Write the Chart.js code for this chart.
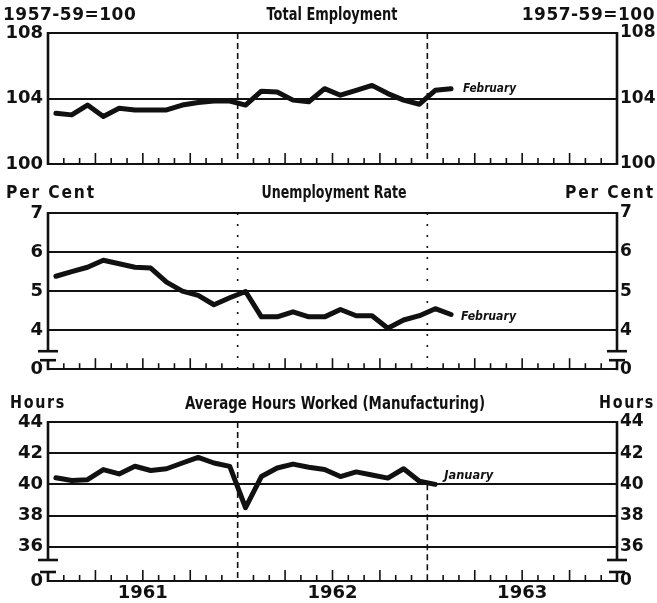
<!DOCTYPE html>
<html><head><meta charset="utf-8">
<script src="https://cdn.jsdelivr.net/npm/chart.js@4.4.1/dist/chart.umd.min.js"></script>
<style>
html,body{margin:0;padding:0;background:#fff;width:657px;height:603px;overflow:hidden;}
canvas{position:absolute;left:0;}
</style></head><body>
<canvas id="c1" width="657" height="180" style="top:0px"></canvas>
<canvas id="c2" width="657" height="205" style="top:180px"></canvas>
<canvas id="c3" width="657" height="218" style="top:385px"></canvas>
<script>
// ---- data ----
const months = ['Jan 1961','Feb 1961','Mar 1961','Apr 1961','May 1961','Jun 1961','Jul 1961','Aug 1961','Sep 1961','Oct 1961','Nov 1961','Dec 1961',
                'Jan 1962','Feb 1962','Mar 1962','Apr 1962','May 1962','Jun 1962','Jul 1962','Aug 1962','Sep 1962','Oct 1962','Nov 1962','Dec 1962',
                'Jan 1963','Feb 1963'];
const employment = [103.1,103.0,103.6,102.9,103.4,103.3,103.3,103.3,103.6,103.75,103.85,103.85,
                    103.6,104.45,104.4,103.9,103.8,104.6,104.2,104.5,104.8,104.3,103.9,103.65,
                    104.5,104.6];
const unemployment = [5.38,5.5,5.61,5.79,5.7,5.61,5.59,5.23,5.0,4.89,4.65,4.83,
                      4.99,4.34,4.34,4.47,4.34,4.34,4.53,4.37,4.37,4.05,4.26,4.37,
                      4.55,4.40];
const hours = [40.42,40.25,40.3,40.95,40.67,41.16,40.89,41.0,41.37,41.73,41.37,41.15,
               38.5,40.5,41.05,41.3,41.1,40.95,40.5,40.8,40.6,40.4,41.0,40.2,
               40.0];
const yearLabels = ['1961','1962','1963'];
const employmentTicks = [100,104,108];
const unemploymentTicks = [4,5,6,7];
const hoursTicks = [36,38,40,42,44];

const FONT = "'DejaVu Sans', sans-serif";

function makePanel(id, cfg){
  const pts = cfg.values.map((v,i)=>({x:i+0.5, y:v}));
  const tickList = cfg.base!==undefined ? [cfg.base].concat(cfg.ticks) : cfg.ticks;
  const tickFont = {family:FONT, size:18, weight:'bold'};
  const tickFontR = {family:FONT, size:17, weight:'bold'};
  const lbl = v => (cfg.base!==undefined && v===cfg.base) ? '0' : String(v);
  const deco = {
    id:'deco'+id,
    beforeDatasetsDraw(chart){
      const c = chart.ctx, a = chart.chartArea, xs = chart.scales.x, ys = chart.scales.y;
      c.save();
      c.strokeStyle = '#111';
      [12,24].forEach((m,k)=>{
        const x = xs.getPixelForValue(m);
        const from = cfg.yearFrom && cfg.yearFrom[k]!==undefined ? ys.getPixelForValue(cfg.yearFrom[k]) : a.top;
        c.lineWidth = 1.6; c.setLineDash(cfg.dash);
        c.beginPath(); c.moveTo(x, from); c.lineTo(x, a.bottom); c.stroke();
      });
      c.setLineDash([]);
      c.lineWidth = 1.6;
      for(let m=1;m<36;m++){
        if(m===12||m===24) continue;
        const x = xs.getPixelForValue(m);
        const h = (m%3===0) ? 11 : 6;
        c.beginPath(); c.moveTo(x, a.bottom); c.lineTo(x, a.bottom-h); c.stroke();
      }
      c.lineWidth = 2.6;
      [a.left, a.right].forEach(x=>{
        if(!cfg.brk){
          c.beginPath(); c.moveTo(x,a.top-1); c.lineTo(x,a.bottom+1); c.stroke();
        } else {
          const yu = a.bottom - cfg.brk[0], yl = a.bottom - cfg.brk[1];
          c.beginPath(); c.moveTo(x,a.top-1); c.lineTo(x,yu); c.stroke();
          c.beginPath(); c.moveTo(x-10,yu); c.lineTo(x+10,yu); c.stroke();
          c.beginPath(); c.moveTo(x-8,yl); c.lineTo(x+8,yl); c.stroke();
          c.beginPath(); c.moveTo(x,yl); c.lineTo(x,a.bottom+1); c.stroke();
        }
      });
      c.restore();
    },
    afterDatasetsDraw(chart){
      const c = chart.ctx, xs = chart.scales.x, ys = chart.scales.y;
      const n = cfg.values.length-1;
      const x = xs.getPixelForValue(n+0.5) + cfg.endOff[0];
      const y = ys.getPixelForValue(cfg.values[n]) + cfg.endOff[1];
      c.save();
      c.fillStyle = '#111'; c.textBaseline = 'middle'; c.textAlign = 'left';
      c.font = "bold italic 12px " + FONT;
      c.fillText(cfg.endLabel, x, y, cfg.endW);
      c.restore();
    },
    afterDraw(chart){
      const c = chart.ctx;
      c.save();
      c.fillStyle = '#111'; c.textBaseline = 'middle';
      c.font = "bold 17px " + FONT;
      c.letterSpacing = cfg.sideSpacing;
      c.textAlign = 'left'; c.fillText(cfg.side, cfg.sideL, cfg.headY, cfg.sideW);
      c.textAlign = 'right'; c.fillText(cfg.side, 655, cfg.headY, cfg.sideW);
      c.letterSpacing = '0px';
      c.font = "bold 18px " + FONT;
      c.textAlign = 'center'; c.fillText(cfg.title, cfg.titleX, cfg.titleY, cfg.titleW);
      c.restore();
    }
  };
  return new Chart(document.getElementById(id), {
    type:'line',
    data:{ datasets:[{ label:cfg.title, data:pts, borderColor:'#111', borderWidth:5,
      pointRadius:0, tension:0, borderJoinStyle:'round', borderCapStyle:'round', fill:false }]},
    options:{
      responsive:false, animation:false, devicePixelRatio:1,
      layout:{padding:{top:cfg.padTop, bottom:cfg.padBottom, left:0, right:0}},
      plugins:{legend:{display:false}, tooltip:{enabled:false}},
      scales:{
        x:{ type:'linear', min:0, max:36, display:!!cfg.showYears,
            grid:{display:false, drawTicks:false}, border:{display:false},
            afterBuildTicks: ax => { ax.ticks = [6,18,30].map(v=>({value:v})); },
            afterFit: s => { s.height = cfg.showYears ? 22 : 0; },
            ticks:{ autoSkip:false, maxRotation:0, padding:2, color:'#111', font:tickFont,
                    callback: v => yearLabels[Math.round((v-6)/12)] } },
        y:{ type:'linear', position:'left', min:cfg.min, max:cfg.max,
            afterBuildTicks: ax => { ax.ticks = tickList.map(v=>({value:v})); },
            afterFit: s => { s.width = 48; },
            grid:{ color:'#111', lineWidth:2, drawTicks:false },
            border:{display:false},
            ticks:{ padding:5, color:'#111', font:tickFont, callback:lbl } },
        y2:{ type:'linear', position:'right', min:cfg.min, max:cfg.max,
            afterBuildTicks: ax => { ax.ticks = tickList.map(v=>({value:v})); },
            afterFit: s => { s.width = 40; },
            grid:{ display:false, drawTicks:false },
            border:{display:false},
            ticks:{ padding:3, color:'#111', font:tickFontR, callback:lbl } }
      }
    },
    plugins:[deco]
  });
}

makePanel('c1', { values:employment, ticks:employmentTicks, min:100, max:108,
  padTop:33, padBottom:16, dash:[6,4],
  side:'1957-59=100', sideL:3, sideW:134, sideSpacing:'0.5px', headY:16,
  title:'Total Employment', titleX:332, titleY:15, titleW:131,
  endLabel:'February', endOff:[12,0], endW:53 });

makePanel('c2', { values:unemployment, ticks:unemploymentTicks, base:3, min:3, max:7,
  padTop:33, padBottom:14, dash:[2,9], brk:[18,9],
  side:'Per Cent', sideL:6, sideW:90, sideSpacing:'2px', headY:14,
  title:'Unemployment Rate', titleX:334, titleY:13, titleW:145,
  endLabel:'February', endOff:[10,2], endW:55 });

makePanel('c3', { values:hours, ticks:hoursTicks, base:33.8, min:33.8, max:44,
  padTop:37, padBottom:0, dash:[6,4], brk:[21,9], showYears:true, yearFrom:[undefined,40],
  side:'Hours', sideL:10, sideW:56, sideSpacing:'2px', headY:19,
  title:'Average Hours Worked (Manufacturing)', titleX:335, titleY:19, titleW:300,
  endLabel:'January', endOff:[9,-8], endW:49 });
</script>
</body></html>
